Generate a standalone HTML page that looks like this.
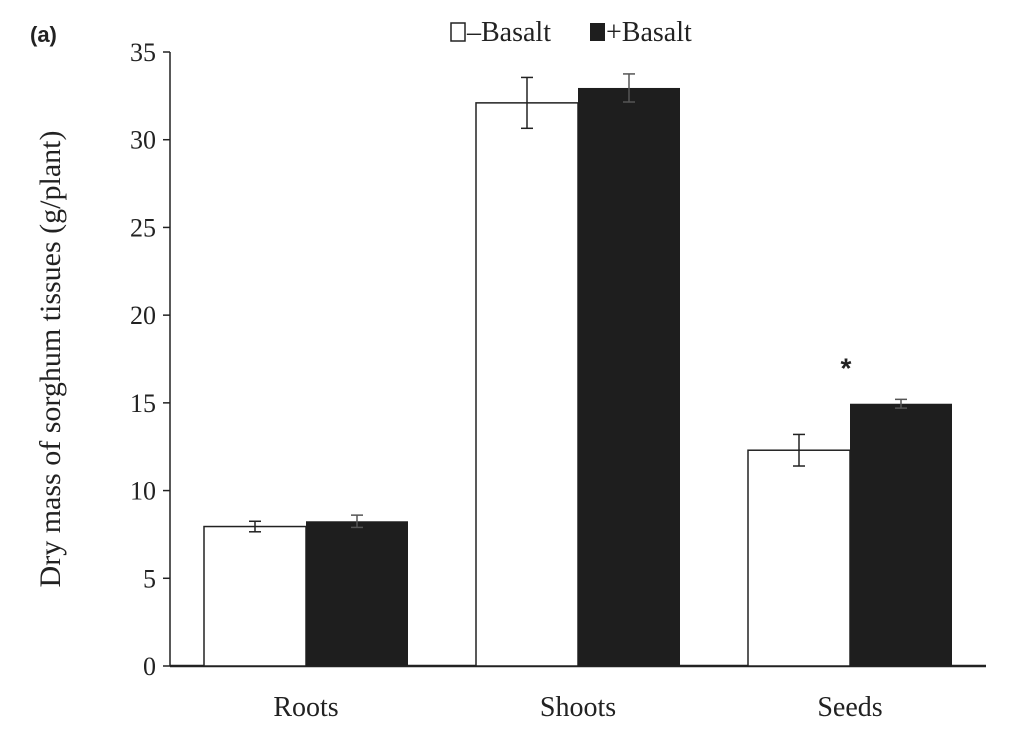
<!DOCTYPE html>
<html><head><meta charset="utf-8"><style>
html,body{margin:0;padding:0;background:#fff;}
svg text{font-family:"Liberation Serif",serif;fill:#222;}
</style></head><body>
<svg id="chart" width="1024" height="736" viewBox="0 0 1024 736">
<text x="30" y="42" style="font-family:'Liberation Sans',sans-serif;font-weight:bold;font-size:22px">(a)</text>
<g id="legend">
  <g>
    <rect x="451" y="23" width="14" height="18" fill="#fff" stroke="#222" stroke-width="1.5"></rect>
    <text x="467" y="41" font-size="28">–Basalt</text>
  </g>
  <g>
    <rect x="590" y="23" width="15" height="18" fill="#1e1e1e"></rect>
    <text x="606" y="41" font-size="28">+Basalt</text>
  </g>
</g>
<text transform="translate(60,359) rotate(-90)" text-anchor="middle" font-size="30">Dry mass of sorghum tissues (g/plant)</text>
<g id="axes"></g>
<g id="bars"></g>
</svg>
<script>
const categories = ["Roots","Shoots","Seeds"];
const minusBasalt = [7.95, 32.1, 12.3];
const minusErr = [0.3, 1.45, 0.9];
const plusBasalt = [8.25, 32.95, 14.95];
const plusErr = [0.35, 0.8, 0.25];
const yTicks = [0,5,10,15,20,25,30,35];
const sigMarks = ["", "", "*"];

const NS = "http://www.w3.org/2000/svg";
const y0 = 666, yTop = 52, yMax = 35;
const xLeft = 170, xRight = 986;
const catStart = 306, catStep = 272, barW = 102;
function yScale(v){ return y0 - (v / yMax) * (y0 - yTop); }
function xCenter(i){ return catStart + i * catStep; }
function mk(tag, attrs, parent){
  const e = document.createElementNS(NS, tag);
  for (const k in attrs) e.setAttribute(k, attrs[k]);
  parent.appendChild(e);
  return e;
}
const axes = document.getElementById("axes");
const bars = document.getElementById("bars");

const yAxis = mk("line", {x1:xLeft, y1:yTop, x2:xLeft, y2:y0, stroke:"#222", "stroke-width":1.5}, axes);



yTicks.forEach(t => {
  const y = yScale(t);
  const tk = mk("line", {x1:xLeft-7, y1:y, x2:xLeft, y2:y, stroke:"#222", "stroke-width":1.5}, axes);
  
  
  const lb = mk("text", {x:xLeft-14, y:y+9, "text-anchor":"end", "font-size":26}, axes);
  lb.textContent = t;
  
  
});

categories.forEach((c, i) => {
  const cx = xCenter(i);
  const wY = yScale(minusBasalt[i]);
  const w = mk("rect", {x:cx-barW, y:wY, width:barW, height:y0-wY, fill:"#fff", stroke:"#222", "stroke-width":1.5}, bars);
  
  
  const bY = yScale(plusBasalt[i]);
  const b = mk("rect", {x:cx, y:bY, width:barW, height:y0-bY, fill:"#1e1e1e"}, bars);
  
  
  [[cx-barW/2, minusBasalt[i], minusErr[i], "#222"], [cx+barW/2, plusBasalt[i], plusErr[i], "#555"]].forEach((d, j) => {
    const [ex, v, e, col] = d;
    const g = mk("g", {stroke:col, "stroke-width":1.5}, bars);
    
    
    mk("line", {x1:ex, y1:yScale(v+e), x2:ex, y2:yScale(v-e)}, g);
    mk("line", {x1:ex-6, y1:yScale(v+e), x2:ex+6, y2:yScale(v+e)}, g);
    mk("line", {x1:ex-6, y1:yScale(v-e), x2:ex+6, y2:yScale(v-e)}, g);
  });
  const lb = mk("text", {x:cx, y:716, "text-anchor":"middle", "font-size":28}, axes);
  lb.textContent = c;
  
  
  if (sigMarks[i]) {
    const s = mk("text", {x:cx-4, y:yScale(plusBasalt[i]+plusErr[i])-22, "text-anchor":"middle", "font-size":28, "font-weight":"bold", style:"font-family:'Liberation Sans',sans-serif"}, bars);
    s.textContent = sigMarks[i];
    
    
  }
});

const xAxis = mk("line", {x1:xLeft, y1:y0, x2:xRight, y2:y0, stroke:"#222", "stroke-width":2.5}, axes);


</script>
</body></html>
